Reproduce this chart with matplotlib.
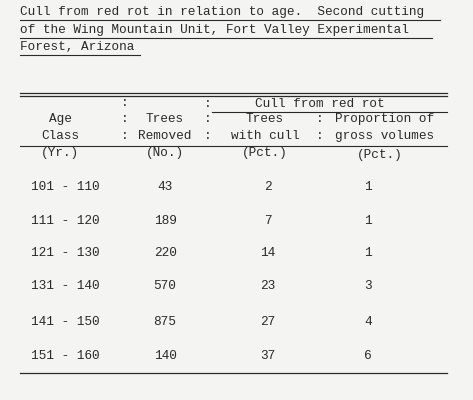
import matplotlib
matplotlib.use("Agg")
import matplotlib.pyplot as plt

title_lines = ["Cull from red rot in relation to age.  Second cutting",
               "of the Wing Mountain Unit, Fort Valley Experimental",
               "Forest, Arizona"]
age_classes = ["101 - 110", "111 - 120", "121 - 130", "131 - 140", "141 - 150", "151 - 160"]
trees_removed = [43, 189, 220, 570, 875, 140]
trees_with_cull = [2, 7, 14, 23, 27, 37]
prop_gross = [1, 1, 1, 3, 4, 6]

fig = plt.figure(figsize=(4.73, 4.0), dpi=100)
fig.patch.set_facecolor("#f4f4f2")
ax = fig.add_axes([0, 0, 1, 1])
ax.set_xlim(0, 473); ax.set_ylim(400, 0); ax.axis("off")
F = dict(family="Liberation Mono", fontsize=9.2, color="#2a2a2a")
ink = "#2a2a2a"

for i, t in enumerate(title_lines):
    y = 12 + i * 17.5
    txt = ax.text(20, y, t, va="center", ha="left", **F)
for y, x1 in [(20, 440), (37.5, 432), (55, 140)]:
    ax.plot([20, x1], [y, y], color=ink, lw=0.8)

ax.plot([20, 447], [93, 93], color=ink, lw=0.9)
ax.plot([20, 447], [96, 96], color=ink, lw=0.9)

ax.text(320, 104, "Cull from red rot", ha="center", va="center", **F)
ax.plot([212, 447], [112, 112], color=ink, lw=0.8)
for x, y in [(125, 103), (208, 104), (125, 119), (208, 119), (320, 119),
             (125, 136), (208, 136), (320, 136)]:
    ax.text(x, y, ":", ha="center", va="center", **F)
ax.text(60, 119, "Age", ha="center", va="center", **F)
ax.text(60, 136, "Class", ha="center", va="center", **F)
ax.text(165, 119, "Trees", ha="center", va="center", **F)
ax.text(165, 136, "Removed", ha="center", va="center", **F)
ax.text(265, 119, "Trees", ha="center", va="center", **F)
ax.text(265, 136, "with cull", ha="center", va="center", **F)
ax.text(385, 119, "Proportion of", ha="center", va="center", **F)
ax.text(385, 136, "gross volumes", ha="center", va="center", **F)
ax.plot([20, 447], [146, 146], color=ink, lw=0.8)
ax.text(60, 153, "(Yr.)", ha="center", va="center", **F)
ax.text(165, 153, "(No.)", ha="center", va="center", **F)
ax.text(265, 153, "(Pct.)", ha="center", va="center", **F)
ax.text(380, 155, "(Pct.)", ha="center", va="center", **F)

row_y = [187, 221, 253, 286, 322, 356]
for y, a, n, c, p in zip(row_y, age_classes, trees_removed, trees_with_cull, prop_gross):
    ax.text(65, y, a, ha="center", va="center", **F)
    ax.text(165, y, str(n), ha="center", va="center", **F)
    ax.text(268, y, str(c), ha="center", va="center", **F)
    ax.text(368, y, str(p), ha="center", va="center", **F)

ax.plot([20, 447], [373, 373], color=ink, lw=0.9)
fig.savefig("out.png", dpi=100, facecolor=fig.get_facecolor())
